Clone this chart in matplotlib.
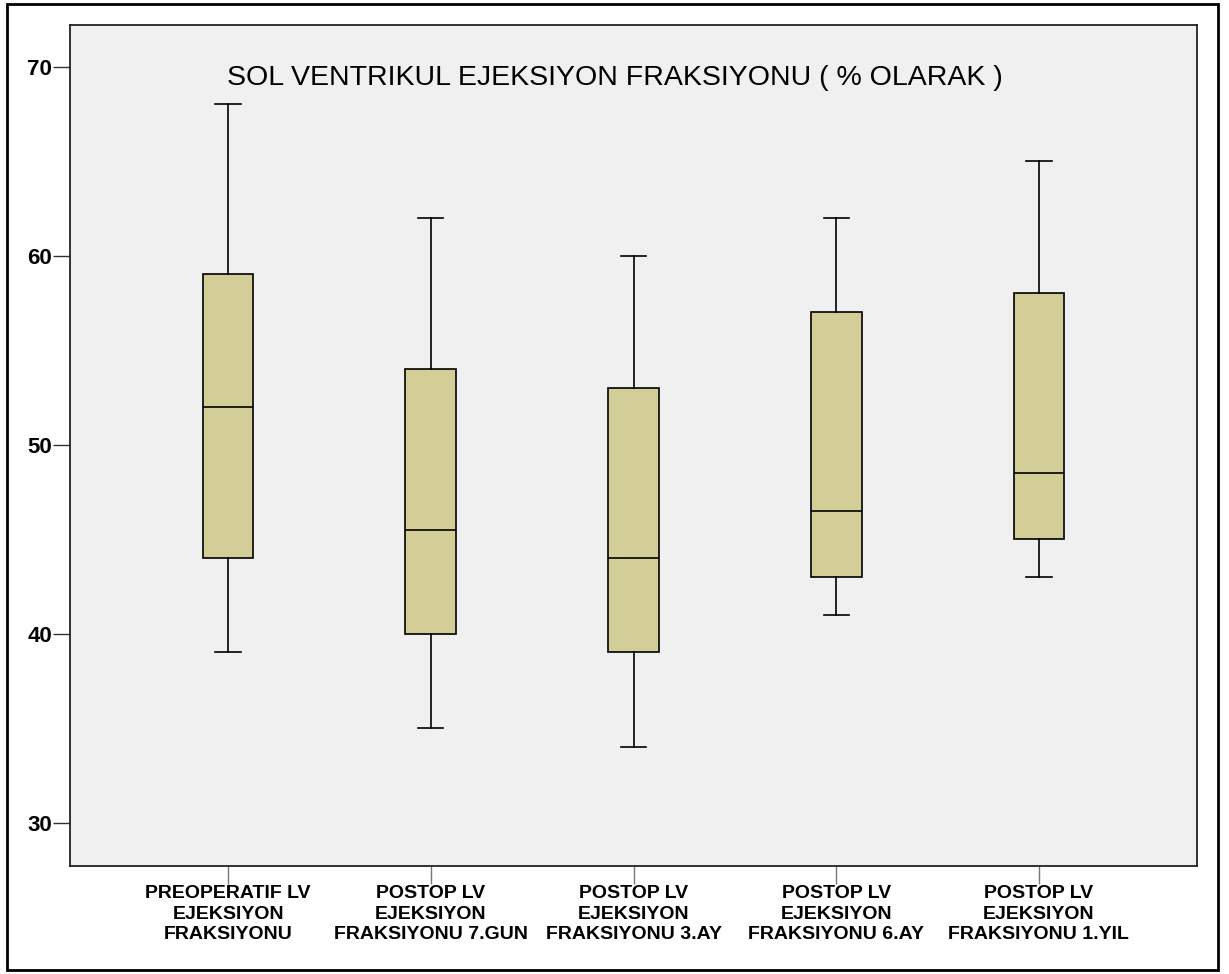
import matplotlib
matplotlib.use("Agg")
import matplotlib.pyplot as plt
from matplotlib.patches import Rectangle

# five measurement times, box statistics (whisker low, Q1, median, Q3, whisker high)
labels = ["PREOPERATIF LV\nEJEKSIYON\nFRAKSIYONU",
          "POSTOP LV\nEJEKSIYON\nFRAKSIYONU 7.GUN",
          "POSTOP LV\nEJEKSIYON\nFRAKSIYONU 3.AY",
          "POSTOP LV\nEJEKSIYON\nFRAKSIYONU 6.AY",
          "POSTOP LV\nEJEKSIYON\nFRAKSIYONU 1.YIL"]
whislo = [39, 35, 34, 41, 43]
q1 = [44, 40, 39, 43, 45]
med = [52, 45.5, 44, 46.5, 48.5]
q3 = [59, 54, 53, 57, 58]
whishi = [68, 62, 60, 62, 65]

fonts = ["Liberation Sans", "DejaVu Sans"]

stats = []
for i in range(len(labels)):
    stats.append(dict(label=labels[i], whislo=whislo[i], q1=q1[i], med=med[i],
                      q3=q3[i], whishi=whishi[i], fliers=[]))

fig = plt.figure(figsize=(12.29, 9.74), dpi=100)
ax = fig.add_axes([70/1229, 1-866/974, (1197-70)/1229, (866-25)/974])
ax.set_facecolor("#f0f0f0")

ax.bxp(stats, positions=range(1, 6), widths=0.25, patch_artist=True, capwidths=0.125,
       boxprops=dict(facecolor="#d3ce97", edgecolor="black", linewidth=1.2),
       medianprops=dict(color="black", linewidth=1.2),
       whiskerprops=dict(color="black", linewidth=1.2),
       capprops=dict(color="black", linewidth=1.2))

ax.set_xlim(0.22, 5.78)
ax.set_ylim(27.7, 72.2)
ax.set_yticks([30, 40, 50, 60, 70])
ax.set_xticks(range(1, 6))
ax.set_xticklabels(labels, family=fonts, fontsize=14, fontweight="bold", linespacing=1.25)
for t in ax.get_yticklabels():
    t.set_family(fonts)
    t.set_fontsize(16)
    t.set_fontweight("bold")
ax.tick_params(axis="y", length=12, width=1, color="#333333", pad=1)
ax.tick_params(axis="x", length=13, width=1, color="#777777", pad=1)
for s in ax.spines.values():
    s.set_color("#222222")
    s.set_linewidth(1.3)

fig.text(615/1229, 1-78/974, "SOL VENTRIKUL EJEKSIYON FRAKSIYONU ( % OLARAK )",
         ha="center", va="center", family=fonts, fontsize=20.5)

# outer frame around the whole chart
fig.patches.append(Rectangle((7/1229, 4/974), 1211/1229, 966/974, transform=fig.transFigure,
                             fill=False, edgecolor="black", linewidth=2))

fig.savefig("out.png", dpi=100)
